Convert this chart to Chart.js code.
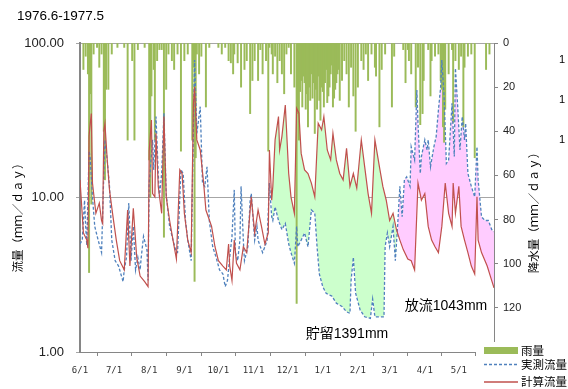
<!DOCTYPE html>
<html>
<head>
<meta charset="utf-8">
<script src="https://cdn.jsdelivr.net/npm/chart.js@4.4.1/dist/chart.umd.min.js"></script>
<style>
  html, body { margin: 0; padding: 0; background: #fff; }
  #wrap { width: 568px; height: 389px; }
</style>
</head>
<body>
<div id="wrap"><canvas id="flowChart"></canvas></div>
<script>
// days counted from 6/1/1976
var monthTicks = [0, 30, 61, 92, 122, 153, 183, 214, 245, 273, 304, 334];
var monthLabels = ['6/1', '7/1', '8/1', '9/1', '10/1', '11/1', '12/1', '1/1', '2/1', '3/1', '4/1', '5/1'];
var flowTicks = [1, 10, 100];

var rainDays = [3,5,7,8,9,10,12,15,17,19,21,22,23,25,28,33,39,42,46,48,51,57,61,62,63,65,66,68,70,72,74,76,78,81,83,86,89,92,95,99,100,101,102,103,105,107,111,114,122,125,128,131,133,135,136,139,142,145,147,150,152,154,157,159,161,164,166,167,169,170,172,174,176,178,180,182,184,186,189,191,192,193,194,195,196,197,198,199,200,201,202,203,204,205,206,207,208,209,210,211,212,213,214,215,216,217,218,219,220,221,222,223,224,225,226,227,228,229,231,233,235,237,239,241,243,245,248,250,252,254,257,260,261,264,266,269,275,277,285,287,289,290,292,296,298,300,302,303,307,309,310,313,316,318,319,320,321,322,325,328,329,331,334,336,338,339,342,345,348,358,361];
var rainMm = [12,6,14,104,23,73,5,2,11,5,40,62,21,21,5,2,2,44,8,44,3,2,53,70,24,12,44,8,3,3,88,21,5,8,12,5,49,8,5,44,11,108,52,5,14,6,29,2,2,5,2,8,9,14,5,9,20,12,8,32,17,8,17,3,14,8,49,2,5,14,6,18,8,14,23,5,2,14,20,118,32,44,22,17,29,15,18,30,23,38,20,26,14,25,18,41,21,30,15,26,35,20,22,29,18,12,27,24,20,14,10,29,25,21,18,14,12,26,17,8,14,29,11,24,40,20,8,12,5,17,5,11,15,38,12,5,29,6,3,18,3,8,14,29,11,37,32,17,3,24,8,6,5,17,21,38,45,30,14,3,36,8,12,6,38,11,6,5,52,12,5];

var obsDays = [0,2,4,5,6,8,9,11,13,16,19,21,22,24,26,28,31,34,36,38,39,41,43,45,47,49,51,53,54,56,59,60,61,64,65,67,69,70,72,74,76,79,82,85,86,89,91,93,95,98,101,103,106,108,110,112,114,117,120,123,126,128,130,132,134,136,137,139,141,142,144,145,148,150,151,154,156,157,159,161,163,165,167,169,170,172,175,178,181,184,186,189,191,192,195,198,201,204,207,209,211,214,217,222,226,231,235,238,239,241,243,247,251,256,258,260,268,269,271,273,276,278,280,282,284,286,288,291,292,295,297,298,300,301,304,306,307,309,312,314,316,318,319,321,323,325,328,330,331,333,335,337,339,340,342,345,348,350,351,354,357,360,363,365];
var obsFlow = [5.0,5.3,9.6,6.5,4.9,20,18,10.1,6.5,5.3,4.4,14.3,23.6,17.5,11.8,5.3,3.9,3.6,3.2,2.85,3.4,4.1,9.2,3.9,6.5,3.4,4.1,3.4,4.1,5.6,4.6,2.9,12.4,23.6,15.1,33.4,14.3,10.1,14.3,35.1,10.6,6.5,5.3,4.4,4.4,15.1,14.3,7.1,5.3,3.9,77.6,26,38.7,12.4,11.8,15.8,7.1,4.8,4.1,3.4,3.2,2.65,2.9,4.1,5.6,11.2,4.4,3.9,5.3,11.8,5.3,3.9,4.8,9.6,10.6,5.3,6.5,5.3,4.8,4.4,4.8,5.3,12.4,7.5,7.1,8.7,7.1,6.2,6.8,5.0,4.4,3.75,6.5,4.8,5.3,5.9,4.8,8.3,7.9,4.8,3.2,2.65,2.4,2.3,2.07,1.97,1.82,1.78,2.9,4.1,2.4,1.87,1.69,1.65,2.2,1.69,1.69,4.8,5.9,4.8,6.5,3.9,6.5,11.8,7.5,13.0,13.6,11.8,21.3,17.5,49.6,30.2,14.3,18.4,23.6,20.3,23.6,15.8,21.3,24.8,36.8,52.2,77.6,45.0,16.6,17.5,40.7,18.4,68.6,38.7,20.3,33.4,23.6,30.2,14.3,11.8,10.1,21.3,13.0,7.5,7.1,7.1,6.2,6.0];

var calcDays = [0,3,6,7,8,9,10,11,14,17,19,20,21,22,24,26,29,32,35,39,42,44,47,50,53,57,60,61,63,64,66,67,69,72,74,76,79,82,85,88,90,92,95,98,100,101,103,106,109,111,116,119,122,126,129,131,132,134,136,138,141,144,147,150,151,154,157,160,163,166,167,169,170,172,175,176,178,181,184,186,189,191,193,195,198,201,204,207,210,213,215,218,221,223,226,229,232,235,238,241,244,248,251,254,257,260,264,267,270,273,276,279,282,285,289,292,295,298,301,304,307,310,313,316,319,322,325,328,329,331,334,336,339,342,345,348,350,351,354,359,363,365];
var calcFlow = [13.0,5.9,5.3,4.7,25,30,35,12.4,7.9,9.2,7.1,6.8,27,30,17.5,11.2,7.6,5.3,3.9,3.4,8.3,3.6,8.5,4.1,3.1,2.85,2.65,20,31.7,10.6,10.1,26,11.8,7.9,33.4,10.1,7.1,5.3,4.0,15.1,14.3,7.9,5.3,4.4,40,52,23.6,20.3,12.4,8.3,6.5,4.8,3.9,3.6,3.4,5.0,3.6,2.9,5.3,3.75,3.4,4.8,4.4,8.3,10.1,5.9,8.3,6.5,5.0,5.9,20.3,9.6,11.8,23.6,33.4,20.3,24.8,39.7,14.3,10.1,7.9,37.8,35.1,19.3,15.1,14.3,12.4,10.1,30.2,27.4,33.4,20.3,17.5,26,17.5,14.3,13.0,20.8,11.8,14.3,11.5,23.6,15.8,10.6,7.9,23.6,15.8,11.8,9.6,7.1,7.9,6.2,5.3,4.6,4.0,3.9,3.4,12.4,9.6,10.6,6.5,5.3,4.8,4.4,6.5,12.4,7.9,6.5,12.4,7.9,11.8,6.5,5.3,4.4,3.6,3.2,10.1,5.3,4.4,3.6,2.9,2.6];

// storage / release period shading starts here
var fillStartDay = 169;

function pts(days, vals, from) {
    var out = [];
    for (var i = 0; i < days.length; i++) {
        if (from === undefined || days[i] >= from) out.push({ x: days[i], y: vals[i] });
    }
    return out;
}

var FONT = '"Liberation Sans", "Noto Sans CJK JP", sans-serif';
var CJK = '"Noto Sans CJK JP", "Liberation Sans", sans-serif';
var AXIS_GRAY = '#868686';

Chart.defaults.font.family = FONT;
Chart.defaults.color = '#222';

var decor = {
    id: 'decor',
    afterDraw: function (chart) {
        var ctx = chart.ctx;
        ctx.save();
        ctx.fillStyle = '#000';
        ctx.textBaseline = 'middle';

        ctx.font = '13.5px ' + FONT;
        ctx.textAlign = 'left';
        ctx.fillText('1976.6-1977.5', 17, 16);

        // rotated axis titles
        ctx.font = '11.5px ' + CJK;
        ctx.textAlign = 'center';
        ctx.save();
        ctx.translate(18, 215);
        ctx.rotate(-Math.PI / 2);
        ctx.fillText('流量（ｍｍ／ｄａｙ）', 0, 0);
        ctx.restore();
        ctx.save();
        ctx.translate(534, 210);
        ctx.rotate(-Math.PI / 2);
        ctx.fillText('降水量（ｍｍ／ｄａｙ）', 0, 0);
        ctx.restore();

        ctx.font = '14px ' + FONT;
        ctx.fillText('貯留1391mm', 347, 334);
        ctx.fillText('放流1043mm', 446, 306);

        ctx.font = '11px ' + FONT;
        ctx.textAlign = 'left';
        ctx.fillText('1', 559, 60);
        ctx.fillText('1', 559, 100);
        ctx.fillText('1', 559, 140);

        // legend
        ctx.fillStyle = '#fff';
        ctx.fillRect(476, 342, 92, 47);
        ctx.fillStyle = '#9bbb59';
        ctx.fillRect(484, 347, 34, 7);
        ctx.lineWidth = 1.3;
        ctx.strokeStyle = '#4f81bd';
        ctx.setLineDash([3, 2]);
        ctx.beginPath();
        ctx.moveTo(484, 364.5);
        ctx.lineTo(518, 364.5);
        ctx.stroke();
        ctx.setLineDash([]);
        ctx.lineWidth = 1.6;
        ctx.strokeStyle = '#c0504d';
        ctx.beginPath();
        ctx.moveTo(484, 382);
        ctx.lineTo(518, 382);
        ctx.stroke();
        ctx.fillStyle = '#000';
        ctx.font = '11.5px ' + CJK;
        ctx.fillText('雨量', 521, 351);
        ctx.fillText('実測流量', 521, 365);
        ctx.fillText('計算流量', 521, 382);
        ctx.restore();
    }
};

var ctx = document.getElementById('flowChart').getContext('2d');
var flowChart = new Chart(ctx, {
    type: 'line',
    data: {
        datasets: [
            {
                label: 'fill',
                data: pts(calcDays, calcFlow, fillStartDay),
                yAxisID: 'y',
                borderColor: 'rgba(0,0,0,0)',
                borderWidth: 1,
                pointRadius: 0,
                fill: { target: 1, above: '#ccffcc', below: '#ffccff' },
                order: 6
            },
            {
                label: 'fillTarget',
                data: pts(obsDays, obsFlow, fillStartDay),
                yAxisID: 'y',
                borderColor: 'rgba(0,0,0,0)',
                borderWidth: 1,
                pointRadius: 0,
                fill: false,
                order: 6
            },
            {
                type: 'bar',
                label: '雨量',
                data: pts(rainDays, rainMm),
                yAxisID: 'yR',
                backgroundColor: '#9bbb59',
                borderWidth: 0,
                barThickness: 1.3,
                order: 4
            },
            {
                label: '実測流量',
                data: pts(obsDays, obsFlow),
                yAxisID: 'y',
                borderColor: '#4f81bd',
                borderWidth: 1.3,
                borderDash: [3, 2],
                pointRadius: 0,
                fill: false,
                order: 2
            },
            {
                label: '計算流量',
                data: pts(calcDays, calcFlow),
                yAxisID: 'y',
                borderColor: '#c0504d',
                borderWidth: 1.2,
                pointRadius: 0,
                fill: false,
                order: 1
            }
        ]
    },
    options: {
        responsive: true,
        maintainAspectRatio: false,
        animation: false,
        layout: { padding: { top: 43, left: 0, right: 0, bottom: 0 } },
        plugins: {
            legend: { display: false },
            tooltip: { enabled: false }
        },
        scales: {
            x: {
                type: 'linear',
                min: 0,
                max: 365,
                offset: false,
                afterBuildTicks: function (scale) {
                    scale.ticks = monthTicks.map(function (v) { return { value: v }; });
                },
                afterFit: function (scale) { scale.height = 37; },
                ticks: {
                    autoSkip: false,
                    maxRotation: 0,
                    padding: 9,
                    color: '#333',
                    font: { family: '"DejaVu Sans Mono", monospace', size: 9 },
                    callback: function (v, i) { return monthLabels[i]; }
                },
                grid: {
                    drawOnChartArea: false,
                    tickLength: 4,
                    color: AXIS_GRAY
                },
                border: { color: AXIS_GRAY, width: 1 }
            },
            y: {
                type: 'logarithmic',
                position: 'left',
                min: 1,
                max: 100,
                afterBuildTicks: function (scale) {
                    scale.ticks = flowTicks.map(function (v) { return { value: v }; });
                },
                afterFit: function (scale) { scale.width = 80; },
                ticks: {
                    padding: 12,
                    color: '#222',
                    font: { size: 13 },
                    callback: function (v) { return Number(v).toFixed(2); }
                },
                grid: {
                    color: '#a6a6a6',
                    tickLength: 4
                },
                border: { color: AXIS_GRAY, width: 2 }
            },
            yR: {
                type: 'linear',
                position: 'right',
                reverse: true,
                min: 0,
                max: 140,
                afterFit: function (scale) { scale.width = 74; },
                ticks: {
                    stepSize: 20,
                    padding: 5,
                    color: '#222',
                    font: { size: 11 },
                    callback: function (v) { return v === 140 ? '' : v; }
                },
                grid: {
                    drawOnChartArea: false,
                    tickLength: 4,
                    color: AXIS_GRAY
                },
                border: { color: AXIS_GRAY, width: 1 }
            }
        }
    },
    plugins: [decor]
});
</script>
</body>
</html>
